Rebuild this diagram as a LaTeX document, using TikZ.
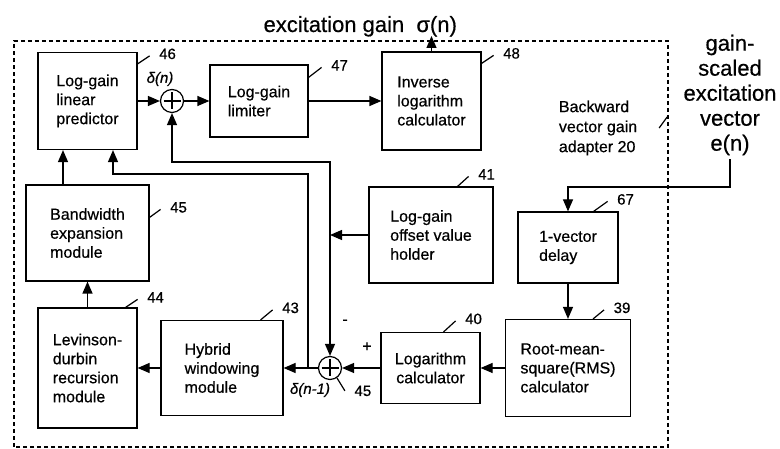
\documentclass[tikz,border=0pt]{standalone}
\usepackage{fontspec}
\setmainfont[FakeBold=0.5]{Liberation Sans}
\usetikzlibrary{positioning,arrows.meta,calc}
\tikzset{
    block/.style = {
        draw,
        shape=rectangle,
        align=left,
        font=\fontsize{16}{19}\selectfont
    },
    sumnode/.style = {
        draw,
        shape=circle,
        minimum size=23pt,
        inner sep=0pt,
        path picture={
            \draw ([yshift=-3pt]path picture bounding box.north) --
            ([yshift=3pt]path picture bounding box.south)
            ([xshift=3pt]path picture bounding box.west) --
            ([xshift=-3pt]path picture bounding box.east);
        }
    },
    num/.style = {
        anchor=west,
        inner sep=0pt,
        xshift=9pt,
        yshift=2pt,
        font=\fontsize{15}{15}\selectfont
    },
    dlabel/.style = {
        inner sep=0pt,
        font=\fontsize{15}{15}\selectfont\itshape
    },
    bigtext/.style = {
        align=center,
        font=\fontsize{22}{25}\selectfont
    },
    frame/.style = {
        dash pattern=on 4pt off 3pt
    },
    >={Triangle[length=12pt,width=10pt]},
}

\begin{document}
\begin{tikzpicture}[x=10pt, y=10pt, line width=1.2pt]
            \useasboundingbox (0,0) rectangle (78,44.9);

            % top row
            \node[block, minimum width=99pt, minimum height=97pt] (pred) at (8.75,34.8) {Log-gain\\linear\\predictor};
            \node[sumnode] (sum1) at (17.2,34.8) {};
            \node[block, minimum width=98pt, minimum height=72pt] (limit) at (25.9,34.8) {Log-gain\\limiter};
            \node[block, minimum width=99pt, minimum height=98pt] (invlog) at (43.15,34.8) {Inverse\\logarithm\\calculator};

            % middle row
            \node[block, minimum width=123pt, minimum height=96pt] (bwexp) at (8.75,21.6) {Bandwidth\\expansion\\module};
            \node[block, minimum width=124pt, minimum height=96pt] (offset) at (43.1,21.4) {Log-gain\\offset value\\holder};
            \node[block, minimum width=100pt, minimum height=71pt] (delay) at (56.8,20.15) {1-vector\\delay};

            % bottom row
            \node[block, minimum width=99pt, minimum height=120pt] (levin) at (8.75,8.1) {Levinson-\\durbin\\recursion\\module};
            \node[block, minimum width=122pt, minimum height=95pt] (hybrid) at (22.2,8.1) {Hybrid\\windowing\\module};
            \node[sumnode] (sum2) at (33.0,8.1) {};
            \node[block, align=center, minimum width=99pt, minimum height=71pt] (logcalc) at (43.05,8.1) {Logarithm\\calculator};
            \node[block, minimum width=125pt, minimum height=97pt] (rms) at (56.8,8.1) {Root-mean-\\square(RMS)\\calculator};

            % texts
            \node[bigtext, anchor=base west, inner sep=0pt] (gaintxt) at (26.3,41.7) {excitation gain\ \ σ(n)};
            \node[bigtext] (einp) at (73.0,35.4) {gain-\\scaled\\excitation\\vector\\e(n)};
            \node[align=left, anchor=west, font=\fontsize{16}{20}\selectfont] (bvga) at (55.5,32.1) {Backward\\vector gain\\adapter 20};
            \node[dlabel] (dn) at (16.0,37.0) {δ(n)};
            \node[dlabel] (dn1) at (31.0,5.9) {δ(n-1)};
            \node[font=\fontsize{16}{16}\selectfont] (minus) at (34.5,12.7) {-};
            \node[font=\fontsize{16}{16}\selectfont] (plus) at (36.7,10.2) {+};

            \coordinate (fsw) at (1.4,0.2);
            \coordinate (fne) at (66.8,40.8);
            \coordinate (gainout) at (43.15,41.3);
            \coordinate (ebend) at (73.0,26.2);
            \coordinate (tap) at (30.8,8.1);
            \coordinate (fbk) at (11.3,27.5);
            \coordinate (jn) at (33.0,21.4);
            \coordinate (top) at (33.0,28.7);

            \draw[frame] (fsw) rectangle (fne);

            % signal path
            \draw[->] (pred) -- (sum1);
            \draw[->] (sum1) -- (limit);
            \draw[->] (limit) -- (invlog);
            \draw[->] (invlog) -- (gainout);
            \draw[->] (einp) -- (ebend) -| (delay);
            \draw[->] (delay) -- (rms);
            \draw[->] (rms) -- (logcalc);
            \draw[->] (logcalc) -- (sum2);
            \draw[->] (sum2) -- (hybrid);
            \draw[->] (hybrid) -- (levin);
            \draw[->] (levin) -- (bwexp);
            \draw[->] ($(bwexp.north)+(-2.45,0)$) -- ($(pred.south)+(-2.45,0)$);
            \draw[->] (tap) |- (fbk) -- (fbk |- pred.south);
            \draw[->] (offset) -- (jn);
            \draw[->] (jn) -- (sum2);
            \draw[->] (jn) -- (top) -| (sum1);

            % reference numbers
            \draw ([yshift=-12pt]pred.north east) -- ++(1.2,0.8) node[num] (n46) {46};
            \draw ([yshift=-13pt]limit.north east) -- ++(1.3,1.0) node[num] (n47) {47};
            \draw ([yshift=-12pt]invlog.north east) -- ++(1.2,0.8) node[num] (n48) {48};
            \draw ([yshift=-33pt]bwexp.north east) -- ++(1.1,0.8) node[num] (n45) {45};
            \draw ([xshift=-12pt]levin.north east) -- ++(1.2,0.8) node[num] (n44) {44};
            \draw ([xshift=-23pt]hybrid.north east) -- ++(1.2,1.0) node[num] (n43) {43};
            \draw ([xshift=-36pt]offset.north east) -- ++(1.1,1.0) node[num] (n41) {41};
            \draw ([xshift=-25pt]delay.north east) -- ++(1.4,1.0) node[num] (n67) {67};
            \draw ([xshift=-38pt]rms.north east) -- ++(1.1,0.9) node[num] (n39) {39};
            \draw ([xshift=-37pt]logcalc.north east) -- ++(1.2,1.1) node[num] (n40) {40};
            \draw (sum2.-55) -- ++(0.8,-1.3) node[num, yshift=-2pt] (n45b) {45};
            \draw ([xshift=18pt]bvga.east) -- ++(0.8,1.1);
\end{tikzpicture}
\end{document}
